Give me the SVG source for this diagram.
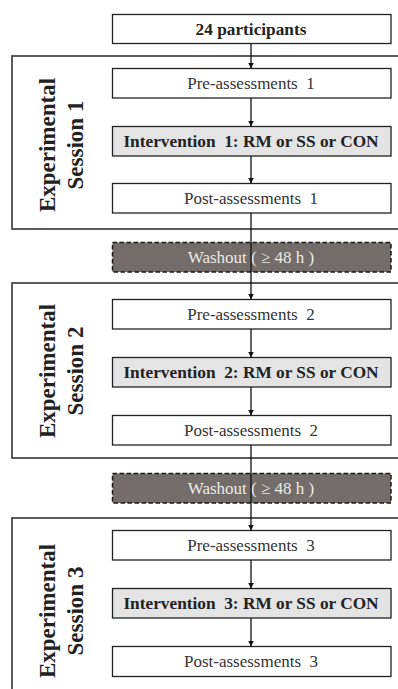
<svg xmlns="http://www.w3.org/2000/svg" width="398" height="689" viewBox="0 0 398 689">
<style>
.bg{fill:#ffffff}
.sess{fill:#ffffff;stroke:#333333;stroke-width:1.6}
.box{fill:#ffffff;stroke:#222222;stroke-width:1.3}
.int{fill:#e4e4e4;stroke:#222222;stroke-width:1.3}
.wash{fill:#726d6a;stroke:#1a1a1a;stroke-width:1.5;stroke-dasharray:4.5,2.5}
text{font-family:"Liberation Serif","Times New Roman",Times,"DejaVu Serif",serif;text-anchor:middle;white-space:pre}
.t{font-size:17px;fill:#333333}
.tb{font-size:17.3px;font-weight:bold;fill:#222222}
.tw{font-size:17px;fill:#ece9e6}
.lab{font-size:23px;font-weight:bold;fill:#222222}
.ln{stroke:#111111;stroke-width:1.3;fill:none}
</style>
<defs>
<marker id="ah" markerUnits="userSpaceOnUse" markerWidth="6" markerHeight="7" refX="6" refY="3" orient="auto">
<path d="M0,0 L6,3 L0,6 z" fill="#111111"/>
</marker>
</defs>
<rect class="bg" x="0" y="0" width="398" height="689"/>
<g id="session1">
<rect class="sess" x="12" y="56" width="400" height="173"/>
<text class="lab" x="55" y="145" transform="rotate(-90 55 145)">Experimental</text>
<text class="lab" x="83" y="145" transform="rotate(-90 83 145)">Session 1</text>
</g>
<g id="session2">
<rect class="sess" x="12" y="283" width="400" height="175"/>
<text class="lab" x="55" y="371" transform="rotate(-90 55 371)">Experimental</text>
<text class="lab" x="83" y="371" transform="rotate(-90 83 371)">Session 2</text>
</g>
<g id="session3">
<rect class="sess" x="12" y="518" width="400" height="190"/>
<text class="lab" x="55" y="611" transform="rotate(-90 55 611)">Experimental</text>
<text class="lab" x="83" y="611" transform="rotate(-90 83 611)">Session 3</text>
</g>
<g id="participants">
<rect class="box" x="112.5" y="14.5" width="278.5" height="29"/>
<text class="tb" x="251" y="34.5">24 participants</text>
</g>
<g id="pre1">
<rect class="box" x="112.5" y="68.5" width="278.5" height="29.5"/>
<text class="t" x="251" y="89">Pre-assessments  1</text>
</g>
<g id="int1">
<rect class="int" x="112.5" y="126.5" width="278.5" height="29.5"/>
<text class="tb" x="251" y="147">Intervention  1: RM or SS or CON</text>
</g>
<g id="post1">
<rect class="box" x="112.5" y="183.5" width="278.5" height="29.5"/>
<text class="t" x="251" y="204">Post-assessments  1</text>
</g>
<g id="washout1">
<rect class="wash" x="112.5" y="242.5" width="278.5" height="29.5"/>
<text class="tw" x="251" y="263">Washout ( ≥ 48 h )</text>
</g>
<g id="pre2">
<rect class="box" x="112.5" y="299.5" width="278.5" height="29.5"/>
<text class="t" x="251" y="320">Pre-assessments  2</text>
</g>
<g id="int2">
<rect class="int" x="112.5" y="357.5" width="278.5" height="29.5"/>
<text class="tb" x="251" y="378">Intervention  2: RM or SS or CON</text>
</g>
<g id="post2">
<rect class="box" x="112.5" y="415.5" width="278.5" height="29.5"/>
<text class="t" x="251" y="436">Post-assessments  2</text>
</g>
<g id="washout2">
<rect class="wash" x="112.5" y="473.5" width="278.5" height="29.5"/>
<text class="tw" x="251" y="494">Washout ( ≥ 48 h )</text>
</g>
<g id="pre3">
<rect class="box" x="112.5" y="530.5" width="278.5" height="29.5"/>
<text class="t" x="251" y="551">Pre-assessments  3</text>
</g>
<g id="int3">
<rect class="int" x="112.5" y="588.5" width="278.5" height="29.5"/>
<text class="tb" x="251" y="609">Intervention  3: RM or SS or CON</text>
</g>
<g id="post3">
<rect class="box" x="112.5" y="646.5" width="278.5" height="30"/>
<text class="t" x="251" y="667">Post-assessments  3</text>
</g>
<g id="connectors">
<line class="ln" x1="251" y1="43.5" x2="251" y2="68.5" marker-end="url(#ah)"/>
<line class="ln" x1="251" y1="98" x2="251" y2="126.5" marker-end="url(#ah)"/>
<line class="ln" x1="251" y1="156" x2="251" y2="183.5" marker-end="url(#ah)"/>
<line class="ln" x1="251" y1="213" x2="251" y2="299.5" marker-end="url(#ah)"/>
<line class="ln" x1="251" y1="329" x2="251" y2="357.5" marker-end="url(#ah)"/>
<line class="ln" x1="251" y1="387" x2="251" y2="415.5" marker-end="url(#ah)"/>
<line class="ln" x1="251" y1="445" x2="251" y2="530.5" marker-end="url(#ah)"/>
<line class="ln" x1="251" y1="560" x2="251" y2="588.5" marker-end="url(#ah)"/>
<line class="ln" x1="251" y1="618" x2="251" y2="646.5" marker-end="url(#ah)"/>
</g>
</svg>
